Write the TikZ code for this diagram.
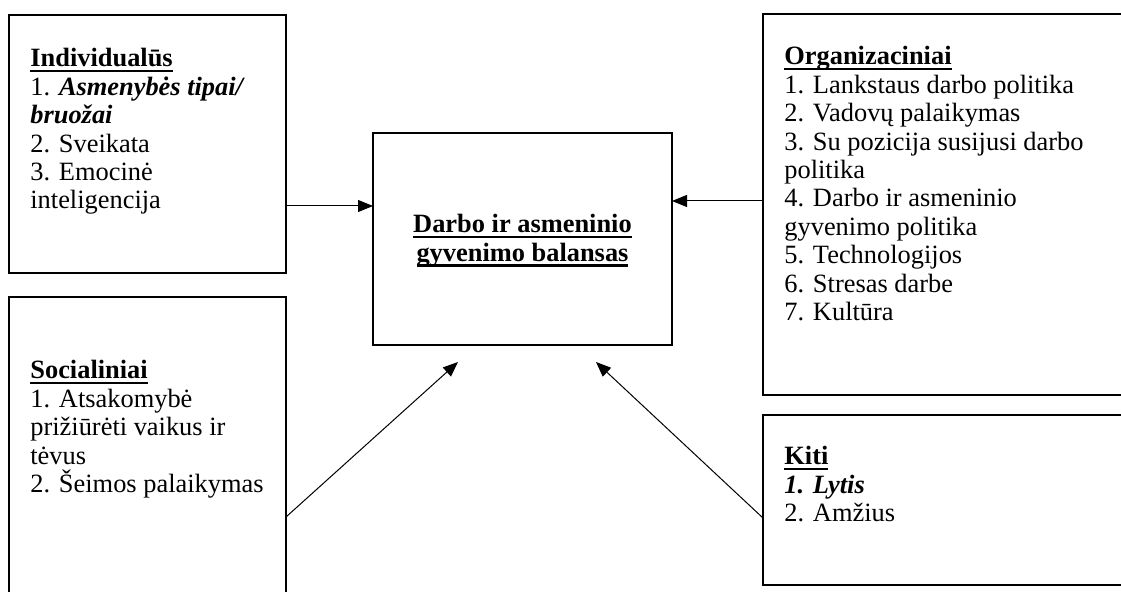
\documentclass[tikz,border=0pt]{standalone}
\usepackage{fontspec}
\setmainfont{Liberation Serif}
\usetikzlibrary{arrows.meta}
\newcommand\myul[1]{\setbox0\hbox{#1}\rlap{\rule[-2.6pt]{\wd0}{1.1pt}}\box0}
\newcommand\leftlines[1]{\vtop{\halign{##\hfil\cr#1\crcr}}}
\newcommand\centerlines[1]{\vtop{\halign{\hfil##\hfil\cr#1\crcr}}}
\begin{document}
\begin{tikzpicture}[x=0.5pt,y=-0.5pt,
  box/.style={draw, line width=1.3pt, inner sep=0pt, outer sep=0pt},
  txt/.style={inner sep=0pt, font=\fontsize{13.2pt}{14.2pt}\selectfont, anchor=base west},
  ctxt/.style={inner sep=0pt, font=\fontsize{13.2pt}{14.2pt}\selectfont, anchor=base},
  arr/.style={line width=0.5pt, -{Triangle[length=7.5pt,width=6pt]}}]
\clip (0,0) rectangle (1121,592);
% boxes
\node[box, minimum width=138.5pt, minimum height=129pt] (ind) at (147.5,144) {};
\node[box, minimum width=138.5pt, minimum height=160pt] (soc) at (147.5,457) {};
\node[box, minimum width=149.5pt, minimum height=106pt] (ctr) at (522.5,239) {};
\node[box, minimum width=190pt, minimum height=190.5pt] (org) at (953,204.5) {};
\node[box, minimum width=190pt, minimum height=85pt] (kiti) at (953,500) {};
% texts
\node[txt] (indt) at (30,67) {\leftlines{\myul{\textbf{Individualūs}}\cr
1. \textbf{\textit{Asmenybės tipai/}}\cr
\textbf{\textit{bruožai}}\cr
2. Sveikata\cr
3. Emocinė\cr
inteligencija}};
\node[txt] (soct) at (30,379) {\leftlines{\myul{\textbf{Socialiniai}}\cr
1. Atsakomybė\cr
prižiūrėti vaikus ir\cr
tėvus\cr
2. Šeimos palaikymas}};
\node[txt] (orgt) at (784,65) {\leftlines{\myul{\textbf{Organizaciniai}}\cr
1. Lankstaus darbo politika\cr
2. Vadovų palaikymas\cr
3. Su pozicija susijusi darbo\cr
politika\cr
4. Darbo ir asmeninio\cr
gyvenimo politika\cr
5. Technologijos\cr
6. Stresas darbe\cr
7. Kultūra}};
\node[txt] (kitit) at (784,465) {\leftlines{\myul{\textbf{Kiti}}\cr
\textbf{\textit{1. Lytis}}\cr
2. Amžius}};
\node[ctxt] (ctrt) at (522.5,233) {\centerlines{\myul{\textbf{Darbo ir asmeninio}}\cr
\myul{\textbf{gyvenimo balansas}}}};
% connectors
\coordinate (ya) at (0,206);
\coordinate (yb) at (0,201);
\coordinate (ys) at (0,517);
\coordinate (yk) at (0,518);
\coordinate (ea) at (458,362);
\coordinate (eb) at (596,362);
\draw[arr] (ind.east |- ya) -- (ctr.west |- ya);
\draw[arr] (org.west |- yb) -- (ctr.east |- yb);
\draw[arr] (soc.east |- ys) -- (ea);
\draw[arr] (kiti.west |- yk) -- (eb);
\end{tikzpicture}
\end{document}
